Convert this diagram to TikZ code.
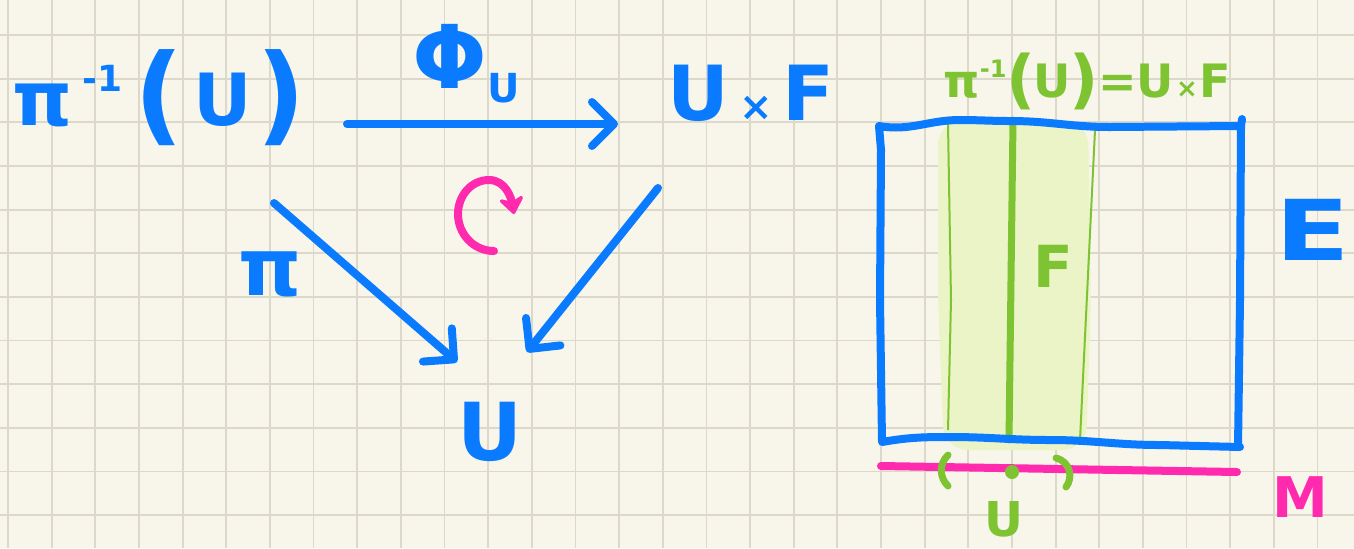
\documentclass[tikz,border=0pt]{standalone}
\usepackage{fontspec}
\setmainfont{DejaVu Sans}
\usetikzlibrary{arrows.meta}
\definecolor{paper}{HTML}{F8F6EA}
\definecolor{gridc}{HTML}{DDD9CA}
\definecolor{inkblue}{HTML}{0A7BFF}
\definecolor{inkpink}{HTML}{FF2AAE}
\definecolor{inkgreen}{HTML}{7DC332}
\definecolor{hilite}{HTML}{EAF4C6}
\newcommand{\myfs}[1]{\fontsize{#1}{#1}\selectfont}
\begin{document}
\begin{tikzpicture}[x=0.5pt,y=-0.5pt,
  pen/.style={line width=4pt, line cap=round, line join=round},
  arr/.style={pen, inkblue, -{Straight Barb[length=11pt,width=22pt,round]}},
  lbl/.style={inner sep=0pt, font=\bfseries},
  gridline/.style={gridc, line width=0.9pt}]
\useasboundingbox (0,0) rectangle (1354,548);
\fill[paper] (0,0) rectangle (1354,548);
% grid
\foreach \i in {0,...,30} \draw[gridline] ({8+43.65*\i},0) -- ({8+43.65*\i},548);
\foreach \j in {0,...,11} \draw[gridline] (0,{35+43.65*\j}) -- (1354,{35+43.65*\j});

% ---------- left diagram ----------
\node[lbl, inkblue, anchor=base west] (piU) at (12,125)
  {\myfs{38}π\hspace{5pt}\raisebox{17pt}{\myfs{18}-1}\hspace{6pt}\raisebox{-3pt}{\myfs{54}(}\hspace{5pt}{\myfs{36}U}\hspace{2pt}\raisebox{-3pt}{\myfs{54})}};
\node[lbl, inkblue, anchor=base west] (UF) at (667,120)
  {\myfs{38}U\hspace{5pt}{\myfs{20}×}\hspace{5pt}F};
\node[lbl, inkblue, anchor=base] (Ub) at (490,460) {\myfs{40}U};

\draw[arr] ([shift={(335,-1)}]piU.base west) -- ([shift={(-49,4)}]UF.base west)
  node[midway, lbl, anchor=base, xshift=-8pt, yshift=18pt] (phi) {\myfs{44}Φ\raisebox{-7pt}{\myfs{20}U}};
\draw[arr] ([shift={(262,78)}]piU.base west) -- ([shift={(-33,-98)}]Ub.base)
  node[pos=0.12, lbl, anchor=base, xshift=-13pt, yshift=-36.5pt] (pi) {\myfs{40}π};
\draw[arr] ([shift={(-9,68)}]UF.base west) -- ([shift={(37,-108)}]Ub.base);

% commutation symbol
\draw[pen, inkpink, -{Stealth[length=10pt,width=15pt,round]}]
  (494,251) to[out=180,in=270] (458,214) to[out=90,in=180] (489,180) to[out=0,in=100] (514,214);

% ---------- right picture ----------
\fill[hilite, rounded corners=12pt] (938,121) -- (1088,121) -- (1091,300) -- (1086,450) -- (944,450) -- (938,300) -- cycle;
\draw[inkgreen, line width=1pt] (948,124) -- (951,300) -- (948,430);
\draw[inkgreen, line width=1pt] (1095,130) -- (1080,440);
\draw[pen, line width=3.5pt, inkgreen] (1013,120) -- (1009,440);

\draw[pen, inkblue] (879,126) to[out=-10,in=180] (960,120) to[out=0,in=180] (1010,121)
  to[out=0,in=180] (1110,127) -- (1241,126) -- (1242,119)
  (1241,126) -- (1240,300) -- (1238,447)
  (1240,447) -- (1160,445) to[out=180,in=0] (1050,440) to[out=180,in=0] (950,437)
  to[out=180,in=10] (882,442) -- (880,300) -- (881,150) -- (879,126);

\node[lbl, inkgreen, anchor=base] (Flab) at (1053,287) {\myfs{29}F};
\node[lbl, inkgreen, anchor=base west] (top) at (943,97)
  {\myfs{23}π\raisebox{10pt}{\myfs{12}-1}\raisebox{-2pt}{\myfs{32}(}\hspace{-1pt}U\hspace{-1pt}\raisebox{-2pt}{\myfs{32})}=U\hspace{1pt}{\myfs{13}×}\hspace{1pt}F};
\node[lbl, inkblue, anchor=base] (E) at (1313,260) {\myfs{42}\scalebox{1.3}[1]{E}};

\draw[pen, inkpink] (881,466) -- (1237,472);
\node[lbl, inkpink, anchor=base] (M) at (1300,517) {\myfs{28}M};
\draw[pen, line width=3.5pt, inkgreen] (948,455) .. controls (938,465) and (940,478) .. (948,486);
\draw[pen, line width=3.5pt, inkgreen] (1056,458) .. controls (1071,462) and (1073,478) .. (1066,487);
\fill[inkgreen] (1012,472) circle (7);
\node[lbl, inkgreen, anchor=base] (Ulow) at (1004,536) {\myfs{24}U};
\end{tikzpicture}
\end{document}
